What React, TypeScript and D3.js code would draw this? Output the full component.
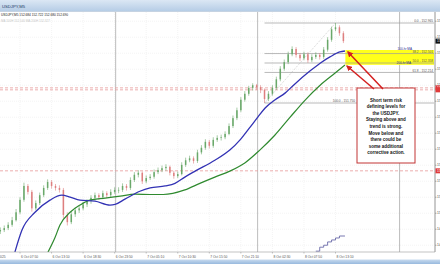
import React from "react";
import * as d3 from "d3";

const W = 440;
const H = 264;
const PLOT_L = 0;
const PLOT_R = 434;
const PLOT_T = 12;
const PLOT_B = 252;

const symbol = "USDJPY,M5";
const headerQuote = ["152.684", "152.722", "152.680", "152.690"];

// 40-minute aggregated bars starting 6 Oct 04:30 (minutes from 6 Oct 00:00)
const barStartMin = 270;
const barMinutes = 40;
const firstOpen = 149.8;
const closes = [
  149.82, 149.85, 149.9, 149.97, 150.09, 150.28, 150.49, 150.4, 150.15, 150.23,
  150.35, 150.46, 150.55, 150.49, 150.46, 150.43, 150.05, 149.94, 150.06, 150.12,
  150.15, 150.21, 150.26, 150.31, 150.35, 150.32, 150.38, 150.35, 150.4, 150.43,
  150.43, 150.49, 150.46, 150.58, 150.66, 150.69, 150.56, 150.61, 150.63, 150.7,
  150.73, 150.76, 150.78, 150.69, 150.64, 150.67, 150.81, 150.88, 150.91, 150.87,
  151.0, 151.07, 151.16, 151.1, 151.19, 151.22, 151.23, 151.28, 151.4, 151.52,
  151.64, 151.8, 151.89, 151.98, 152.02, 151.99, 151.95, 151.81, 151.89, 151.98,
  152.11, 152.27, 152.37, 152.49, 152.57, 152.48, 152.43, 152.49, 152.4, 152.45,
  152.48, 152.45, 152.56, 152.71, 152.87, 152.9, 152.81, 152.69,
];
const highs = [
  149.86, 149.89, 149.94, 150.02, 150.14, 150.32, 150.54, 150.52, 150.43, 150.27,
  150.39, 150.5, 150.59, 150.58, 150.52, 150.5, 150.46, 150.09, 150.1, 150.16,
  150.19, 150.25, 150.29, 150.35, 150.39, 150.38, 150.42, 150.41, 150.44, 150.47,
  150.47, 150.53, 150.52, 150.62, 150.7, 150.73, 150.71, 150.65, 150.67, 150.74,
  150.77, 150.8, 150.82, 150.8, 150.72, 150.71, 150.85, 150.92, 150.95, 150.94,
  151.04, 151.11, 151.2, 151.19, 151.23, 151.26, 151.27, 151.32, 151.44, 151.56,
  151.68, 151.84, 151.93, 152.01, 152.05, 152.04, 152.02, 151.97, 151.93, 152.02,
  152.15, 152.31, 152.41, 152.53, 152.61, 152.6, 152.51, 152.53, 152.52, 152.49,
  152.52, 152.51, 152.6, 152.75, 152.91, 152.965, 152.93, 152.84,
];
const lows = [
  149.76, 149.79, 149.82, 149.87, 149.95, 150.06, 150.25, 150.36, 150.1, 150.12,
  150.2, 150.32, 150.43, 150.45, 150.42, 150.39, 150.0, 149.89, 149.91, 150.02,
  150.08, 150.12, 150.17, 150.22, 150.27, 150.28, 150.29, 150.31, 150.32, 150.37,
  150.38, 150.4, 150.42, 150.43, 150.55, 150.62, 150.52, 150.53, 150.58, 150.6,
  150.67, 150.7, 150.72, 150.65, 150.6, 150.61, 150.65, 150.78, 150.85, 150.83,
  150.84, 150.97, 151.04, 151.06, 151.07, 151.16, 151.18, 151.2, 151.26, 151.37,
  151.49, 151.61, 151.77, 151.86, 151.94, 151.95, 151.9, 151.75, 151.78, 151.86,
  151.95, 152.08, 152.24, 152.34, 152.46, 152.44, 152.39, 152.4, 152.36, 152.37,
  152.42, 152.41, 152.42, 152.53, 152.68, 152.84, 152.77, 152.66,
];

// moving averages read at [bar index, price]
const ma100: [number, number][] = [
  [3.7, 149.485], [5.5, 149.82], [8.8, 150.09], [12.6, 150.275], [15.6, 150.35],
  [17.7, 150.32], [20.2, 150.275], [24, 150.26], [27.8, 150.2], [29.1, 150.21],
  [31.6, 150.29], [35.4, 150.41], [38, 150.46], [41.8, 150.49], [44.3, 150.53],
  [46.8, 150.625], [49.4, 150.715], [54.4, 150.88], [58.2, 151.035], [60.8, 151.19],
  [63.3, 151.38], [65.3, 151.535], [67.1, 151.67], [69.6, 151.795], [72.2, 151.9],
  [74.7, 152.04], [78.5, 152.235], [81.1, 152.355], [83.6, 152.45], [86.1, 152.525],
  [87.4, 152.54],
];
const ma200: [number, number][] = [
  [12.1, 149.485], [13.9, 149.71], [15.1, 149.895], [17.7, 150.09], [20.2, 150.2],
  [22.7, 150.275], [26.6, 150.305], [30.4, 150.335], [34.2, 150.365], [38, 150.36],
  [41.3, 150.36], [46.8, 150.43], [50.6, 150.53], [54.4, 150.625], [58.2, 150.715],
  [62, 150.84], [65.8, 151.035], [69.6, 151.26], [73.5, 151.535], [77.3, 151.795],
  [81.1, 152.02], [84.9, 152.205], [87.4, 152.327],
];
const stepStart = 80;
const stepValues = [149.5, 149.56, 149.59, 149.64, 149.67, 149.7, 149.73, 149.73];

const fibHigh = 152.965;
const fibLow = 151.75;
const fibLevels = [0, 38.2, 50, 61.8, 100];
const fibLowIdx = 67;
const fibHighIdx = 85;

const keyLevels = [151.98, 151.95, 150.72];
const zoneTop = 152.555;
const zoneBottom = 152.33;
const zoneStartIdx = 87.5;

const xTickStartMin = 150;
const xTickStepMin = 320;
const xTickLabels = [
  "6 Oct 2025", "6 Oct 07:50", "6 Oct 13:10", "6 Oct 18:30", "6 Oct 23:50",
  "7 Oct 05:10", "7 Oct 10:30", "7 Oct 15:50", "7 Oct 21:10", "8 Oct 02:30",
  "8 Oct 07:50", "8 Oct 13:10",
];
const daySeparators = [1440, 2880, 4320];
const priceTickStart = 149.59;
const priceTickStep = 0.243;
const priceTickCount = 15;

const noteLines = [
  "Short term risk",
  "defining levels for",
  "the USDJPY.",
  "Staying above and",
  "trend is strong.",
  "Move below and",
  "there could be",
  "some additional",
  "corrective action.",
];

const FONT = "'Liberation Sans', Arial, sans-serif";

export default function App() {
  const x = d3.scaleLinear().domain([267, 4669]).range([PLOT_L, PLOT_R]);
  const y = d3.scaleLinear().domain([fibLow, fibHigh]).range([103, 23]);
  const barX = (i: number) => x(barStartMin + i * barMinutes);
  const bw = 1.5;

  const maLine = d3
    .line<[number, number]>()
    .x((d) => barX(d[0]))
    .y((d) => y(d[1]))
    .curve(d3.curveMonotoneX);

  const stepPts: [number, number][] = stepValues.map((v, k) => [
    k === stepValues.length - 1 ? 87.4 : stepStart + k,
    v,
  ]);
  const stepLine = d3
    .line<[number, number]>()
    .x((d) => barX(d[0]))
    .y((d) => y(d[1]))
    .curve(d3.curveStepAfter);

  const priceTicks = d3.range(priceTickCount).map((k) => priceTickStart + k * priceTickStep);
  const fmt = d3.format(".3f");
  const lastClose = closes[closes.length - 1];

  const fibX0 = barX(fibLowIdx);
  const blueEnd = ma100[ma100.length - 1];
  const greenEnd = ma200[ma200.length - 1];

  return (
    <div style={{ position: "fixed", left: 0, top: 0 }}>
      <svg width={W} height={H} style={{ display: "block", background: "#fff" }}>
        <defs>
          <linearGradient id="tbar" x1="0" y1="0" x2="0" y2="1">
            <stop offset="0" stopColor="#dbe7f4" />
            <stop offset="1" stopColor="#b6cde6" />
          </linearGradient>
          <linearGradient id="bbar" x1="0" y1="0" x2="0" y2="1">
            <stop offset="0" stopColor="#c8dbef" />
            <stop offset="1" stopColor="#98b9de" />
          </linearGradient>
          <clipPath id="plot">
            <rect x={PLOT_L} y={PLOT_T} width={PLOT_R - PLOT_L} height={PLOT_B - PLOT_T} />
          </clipPath>
          <clipPath id="axis">
            <rect x={PLOT_R + 1} y={PLOT_T} width={W - PLOT_R - 1} height={PLOT_B - PLOT_T} />
          </clipPath>
          <marker id="ah" viewBox="0 0 10 10" refX="8" refY="5" markerWidth="4" markerHeight="4" orient="auto">
            <path d="M0,0 L10,5 L0,10 z" fill="#d42020" />
          </marker>
        </defs>

        {/* title bar */}
        <rect x={0} y={0} width={W} height={11} fill="url(#tbar)" />
        <line x1={0} x2={W} y1={11.5} y2={11.5} stroke="#9fb6cf" strokeWidth={0.6} />
        <text x={2} y={7.5} fontSize={4.2} fontFamily={FONT} fill="#1f3a63">{symbol}</text>

        {/* grid */}
        <g clipPath="url(#plot)">
          {xTickLabels.map((_, k) => {
            const xx = x(xTickStartMin + k * xTickStepMin);
            return <line key={"gx" + k} x1={xx} x2={xx} y1={PLOT_T} y2={PLOT_B} stroke="#ececec" strokeWidth={0.6} strokeDasharray="1,1" />;
          })}
          {priceTicks.map((p, k) => (
            <line key={"gy" + k} x1={PLOT_L} x2={PLOT_R} y1={y(p)} y2={y(p)} stroke="#ededed" strokeWidth={0.6} strokeDasharray="1,1" />
          ))}
          {daySeparators.map((m) => (
            <line key={"ds" + m} x1={x(m)} x2={x(m)} y1={PLOT_T} y2={PLOT_B} stroke="#b4b4b4" strokeWidth={0.9} />
          ))}

          {/* key levels */}
          {keyLevels.map((p, k) => (
            <line key={"kl" + k} x1={PLOT_L} x2={PLOT_R} y1={y(p)} y2={y(p)} stroke="#e79a9a" strokeWidth={0.8} strokeDasharray="3,2" />
          ))}

          {/* yellow zone */}
          <rect x={barX(zoneStartIdx)} y={y(zoneTop)} width={PLOT_R - barX(zoneStartIdx)} height={y(zoneBottom) - y(zoneTop)} fill="#ffff1a" />

          {/* fib */}
          <line x1={fibX0} y1={y(fibLow)} x2={barX(fibHighIdx)} y2={y(fibHigh)} stroke="#bbbbbb" strokeWidth={0.7} strokeDasharray="1,1.2" />
          {fibLevels.map((lv) => {
            const p = fibHigh - (fibHigh - fibLow) * (lv / 100);
            return <line key={"fl" + lv} x1={fibX0} x2={PLOT_R} y1={y(p)} y2={y(p)} stroke="#9c9c9c" strokeWidth={0.7} />;
          })}

          {/* candles */}
          {closes.map((c, i) => {
            const o = i === 0 ? firstOpen : closes[i - 1];
            const bull = c >= o;
            const col = bull ? "#6aa86a" : "#de7f7f";
            const cx = barX(i);
            const top = y(Math.max(o, c));
            const bot = y(Math.min(o, c));
            return (
              <g key={"c" + i}>
                <line x1={cx} x2={cx} y1={y(highs[i])} y2={y(lows[i])} stroke={col} strokeWidth={0.6} />
                <rect x={cx - bw / 2} y={top} width={bw} height={Math.max(0.6, bot - top)} fill={col} />
              </g>
            );
          })}

          {/* moving averages */}
          <path d={maLine(ma200) || ""} fill="none" stroke="#2f8a2f" strokeWidth={1.2} />
          <path d={maLine(ma100) || ""} fill="none" stroke="#3232b4" strokeWidth={1.3} />
          <path d={stepLine(stepPts) || ""} fill="none" stroke="#6a6aa8" strokeWidth={0.9} />
        </g>

        {/* header quote lines */}
        <text x={1} y={16} fontSize={3.2} fontFamily={FONT} fill="#222">
          {symbol + "  " + headerQuote.join(" ")}
        </text>
        <text x={1} y={21.5} fontSize={3} fontFamily={FONT} fill="#c8c8c8">
          {"MA 100H " + fmt(blueEnd[1]) + "   MA 200H " + fmt(greenEnd[1])}
        </text>

        {/* fib labels */}
        {fibLevels.map((lv) => {
          const p = fibHigh - (fibHigh - fibLow) * (lv / 100);
          const isLast = lv === 100;
          return (
            <text key={"ft" + lv} x={isLast ? 355 : 433} y={y(p) - 0.8} fontSize={3.2} fontFamily={FONT} fill="#5a5a5a" textAnchor="end">
              {lv.toFixed(1) + " - " + fmt(p)}
            </text>
          );
        })}
        <text x={412} y={y(blueEnd[1]) - 1} fontSize={3.1} fontFamily={FONT} fill="#2a2a90" textAnchor="end">100-hr MA</text>
        <text x={411} y={y(greenEnd[1]) - 1} fontSize={3.1} fontFamily={FONT} fill="#2a2a90" textAnchor="end">200-hr MA</text>

        {/* note box */}
        <rect x={357} y={88} width={58} height={75} fill="#ffffff" stroke="#c23434" strokeWidth={1} />
        <text x={386} y={101.5} fontSize={4.5} fontWeight="bold" fontFamily={FONT} fill="#111" textAnchor="middle">
          {noteLines.map((l, k) => (
            <tspan key={"n" + k} x={386} y={101.5 + k * 6.6}>{l}</tspan>
          ))}
        </text>

        {/* arrows */}
        <line x1={383} y1={89} x2={barX(blueEnd[0]) + 3} y2={y(blueEnd[1]) + 1} stroke="#d42020" strokeWidth={1.5} markerEnd="url(#ah)" />
        <line x1={374} y1={89} x2={barX(greenEnd[0]) + 2} y2={y(greenEnd[1]) + 1} stroke="#d42020" strokeWidth={1.5} markerEnd="url(#ah)" />

        {/* axes */}
        <line x1={PLOT_R + 1} x2={PLOT_R + 1} y1={PLOT_T} y2={PLOT_B} stroke="#7a7a7a" strokeWidth={0.8} />
        <line x1={PLOT_L} x2={PLOT_R + 1} y1={PLOT_B} y2={PLOT_B} stroke="#9a9a9a" strokeWidth={0.6} />
        <g clipPath="url(#axis)">
          {priceTicks.map((p, k) => (
            <g key={"pt" + k}>
              <line x1={PLOT_R + 1} x2={PLOT_R + 2.5} y1={y(p)} y2={y(p)} stroke="#7a7a7a" strokeWidth={0.6} />
              <text x={PLOT_R + 3} y={y(p) + 1.2} fontSize={3.4} fontFamily={FONT} fill="#444">{fmt(p)}</text>
            </g>
          ))}
          {keyLevels.map((p, k) => (
            <g key={"kb" + k}>
              <rect x={PLOT_R + 1.5} y={y(p) - 2.5} width={6} height={5} fill="#e03a3a" />
              {k !== 1 && (
                <text x={PLOT_R + 3} y={y(p) + 1.2} fontSize={3.4} fontFamily={FONT} fill="#fff">{fmt(p)}</text>
              )}
            </g>
          ))}
          <rect x={PLOT_R + 1.5} y={y(lastClose) - 2.5} width={6} height={5} fill="#111" />
          <text x={PLOT_R + 3} y={y(lastClose) + 1.2} fontSize={3.4} fontFamily={FONT} fill="#fff">{fmt(lastClose)}</text>
        </g>

        {xTickLabels.map((lab, k) => {
          const xx = x(xTickStartMin + k * xTickStepMin);
          return (
            <g key={"xt" + k}>
              <line x1={xx} x2={xx} y1={PLOT_B} y2={PLOT_B + 1.5} stroke="#9a9a9a" strokeWidth={0.6} />
              <text x={xx + 1} y={257.8} fontSize={3.3} fontFamily={FONT} fill="#555">{lab}</text>
            </g>
          );
        })}

        {/* bottom bar */}
        <rect x={0} y={259.5} width={W} height={4.5} fill="url(#bbar)" />
      </svg>
    </div>
  );
}
